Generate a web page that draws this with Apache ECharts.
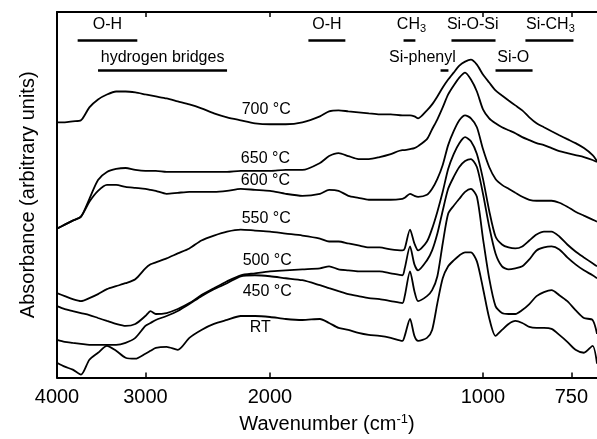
<!DOCTYPE html>
<html>
<head>
<meta charset="utf-8">
<script src="https://cdn.jsdelivr.net/npm/echarts@6.0.0/dist/echarts.min.js"></script>
<style>
html, body { margin: 0; padding: 0; background: #fff; }
#main { width: 597px; height: 439px; }
</style>
</head>
<body>
<div id="main"></div>
<script>
// wavenumber grid (cm-1), shared by all spectra
var wavenumbers = [4000,3900,3800,3700,3600,3500,3400,3300,3200,3100,
    3000,2950,2900,2800,2700,2600,2500,2400,2300,2200,
    2100,2000,1900,1800,1700,1650,1600,1550,1500,1450,
    1400,1350,1300,1290,1268,1250,1235,1200,1180,1160,
    1140,1120,1100,1080,1060,1040,1020,1000,980,960,
    940,920,900,880,860,840,820,800,780,760,
    740,720,700,690];

// absorbance (arbitrary units, curves already offset)
var abs700 = [257,257,258,259,272,280,285,288,288,287,
    285,284,283,281,278,275,271,266,262,259,
    256,255,255,257,263,268,269,268,267,266,
    265,265,264,264,264,263,261,269,275,283,
    292,300,307,314,318,320,315,305,297,289,
    284,279,274,269,262,256,252,248,244,240,
    236,231,224,218];
var abs650 = [150,154,158,162,180,199,207,210,211,209,
    208,208,208,207,207,207,207,207,207,208,
    208,208,209,209,216,223,226,223,220,220,
    222,225,229,229,230,231,233,240,250,260,
    272,285,294,302,307,300,288,270,261,256,
    252,249,246,242,239,236,234,231,228,226,
    224,222,219,217];
var abs600 = [150,154,158,162,177,188,194,194,192,191,
    190,189,188,185,186,187,187,187,188,190,
    189,188,185,183,185,189,188,183,181,179,
    179,179,180,181,185,183,182,184,190,200,
    214,234,248,259,264,261,252,230,212,200,
    194,190,186,182,179,178,178,178,176,172,
    167,163,159,157];
var abs550 = [85,82,79,77,80,84,89,92,95,99,
    110,114,116,120,125,130,138,143,147,149,
    148,147,145,143,140,137,137,135,133,131,
    131,129,128,130,149,135,128,137,150,167,
    187,210,225,236,242,238,225,200,168,142,
    134,131,130,132,138,144,147,147,142,134,
    127,121,115,112];
var abs500 = [72,69,67,65,63,60,57,54,52,54,
    62,67,64,65,69,75,83,90,97,103,
    105,107,108,109,110,112,109,108,107,107,
    107,105,103,110,132,114,108,118,128,145,
    168,190,202,212,218,220,212,185,152,125,
    112,109,110,112,119,128,131,132,129,121,
    114,108,103,100];
var abs450 = [38,36,35,34,33,33,33,33,35,40,
    52,55,58,62,67,74,82,89,95,102,
    103,102,100,98,93,90,87,84,82,80,
    79,77,75,82,107,87,77,82,88,102,
    135,165,173,180,187,190,182,140,100,72,
    65,64,64,68,74,82,86,88,83,77,
    68,60,58,44];
var absRT = [15,11,8,3,18,25,32,27,20,19,
    24,27,30,31,28,40,48,54,58,62,
    62,61,59,58,59,55,50,48,45,43,
    42,40,37,42,59,42,37,40,48,75,
    100,112,118,123,126,126,117,90,60,42,
    48,54,57,55,51,50,50,49,43,36,
    28,25,32,14];

var curveNames = ['700 °C', '650 °C', '600 °C', '550 °C', '500 °C', '450 °C', 'RT'];
var curveValues = [abs700, abs650, abs600, abs550, abs500, abs450, absRT];
// where each curve's label sits (wavenumber, absorbance)
var curveLabelWn = [2025, 2030, 2030, 2025, 2018, 2018, 2065];
var curveLabelAbs = [270, 220, 198, 160, 118, 87, 50];

var tickValues = [4000, 3000, 2000, 1000, 750];

// assignment bars at the top
var bandNames = ['O-H', 'hydrogen bridges', 'O-H', 'CH{sub|3}', 'Si-O-Si', 'Si-CH{sub|3}', 'Si-phenyl', 'Si-O'];
var bandFrom = [3740, 3500, 1765, 1295, 1108, 871, 1148, 960];
var bandTo = [3080, 2300, 1565, 1246, 960, 745, 1119, 851];
var bandTextWn = [3394, 2837, 1662, 1262, 1034, 803, 1218, 906];
var bandRow = [1, 2, 1, 1, 1, 1, 2, 2];

var rowBarAbs = {1: 340, 2: 309};
var rowTextAbs = {1: 355, 2: 322};

var font = 'Liberation Sans, Arial, sans-serif';

var series = [];
for (var i = 0; i < curveNames.length; i++) {
    series.push({
        name: curveNames[i],
        type: 'line',
        showSymbol: false,
        smooth: 0.25,
        data: wavenumbers.map(function (w, j) { return [w, curveValues[i][j]]; }),
        lineStyle: { color: '#000', width: 1.8 }
    });
}

var textLabel = {
    show: true,
    position: 'inside',
    color: '#000',
    opacity: 1,
    textBorderWidth: 0,
    fontFamily: font,
    fontSize: 16,
    formatter: function (p) { return p.name; },
    rich: {
        sub: { fontSize: 11, fontFamily: font, color: '#000', padding: [8, 0, 0, 0] }
    }
};

series.push({
    type: 'scatter',
    symbolSize: 0,
    silent: true,
    z: 5,
    itemStyle: { color: '#000', opacity: 1 },
    label: textLabel,
    data: curveNames.map(function (n, i) {
        return { name: n, value: [curveLabelWn[i], curveLabelAbs[i]] };
    })
});

series.push({
    type: 'scatter',
    symbolSize: 0,
    silent: true,
    z: 5,
    itemStyle: { color: '#000', opacity: 1 },
    label: textLabel,
    data: bandNames.map(function (n, i) {
        return { name: n, value: [bandTextWn[i], rowTextAbs[bandRow[i]]] };
    }),
    markLine: {
        silent: true,
        symbol: ['none', 'none'],
        label: { show: false },
        lineStyle: { color: '#000', width: 2.5, type: 'solid' },
        data: bandNames.map(function (n, i) {
            return [
                { coord: [bandFrom[i], rowBarAbs[bandRow[i]]] },
                { coord: [bandTo[i], rowBarAbs[bandRow[i]]] }
            ];
        })
    }
});

var chart = echarts.init(document.getElementById('main'));
chart.setOption({
    animation: false,
    backgroundColor: '#fff',
    grid: { left: 57, right: 0, top: 12, bottom: 59 },
    xAxis: [
        {
            type: 'log',
            logBase: 10,
            min: 690,
            max: 4000,
            inverse: true,
            position: 'bottom',
            name: '{n|Wavenumber (cm}{s|-1}{n|)}',
            nameLocation: 'middle',
            nameGap: 34,
            nameTextStyle: {
                rich: {
                    n: { fontSize: 20, fontFamily: font, color: '#000' },
                    s: { fontSize: 13, fontFamily: font, color: '#000', padding: [0, 0, 10, 0] }
                }
            },
            axisLine: { lineStyle: { color: '#000', width: 2 } },
            axisTick: { inside: true, length: 5, customValues: tickValues, lineStyle: { color: '#000', width: 1.5 } },
            axisLabel: {
                customValues: tickValues,
                margin: 10,
                color: '#000',
                fontSize: 20,
                fontFamily: font,
                formatter: function (v) { return String(v); }
            },
            splitLine: { show: false },
            minorTick: { show: false }
        },
        {
            type: 'log',
            logBase: 10,
            min: 690,
            max: 4000,
            inverse: true,
            position: 'top',
            axisLine: { lineStyle: { color: '#000', width: 2 } },
            axisTick: { inside: true, length: 5, customValues: tickValues, lineStyle: { color: '#000', width: 1.5 } },
            axisLabel: { show: false, customValues: tickValues },
            splitLine: { show: false }
        }
    ],
    yAxis: {
        type: 'value',
        min: 0,
        max: 368,
        name: 'Absorbance (arbitrary units)',
        nameLocation: 'middle',
        nameGap: 19,
        nameTextStyle: { fontSize: 20, fontFamily: font, color: '#000' },
        axisLine: { show: true, lineStyle: { color: '#000', width: 2 } },
        axisTick: { show: false },
        axisLabel: { show: false },
        splitLine: { show: false }
    },
    series: series
});
</script>
</body>
</html>
